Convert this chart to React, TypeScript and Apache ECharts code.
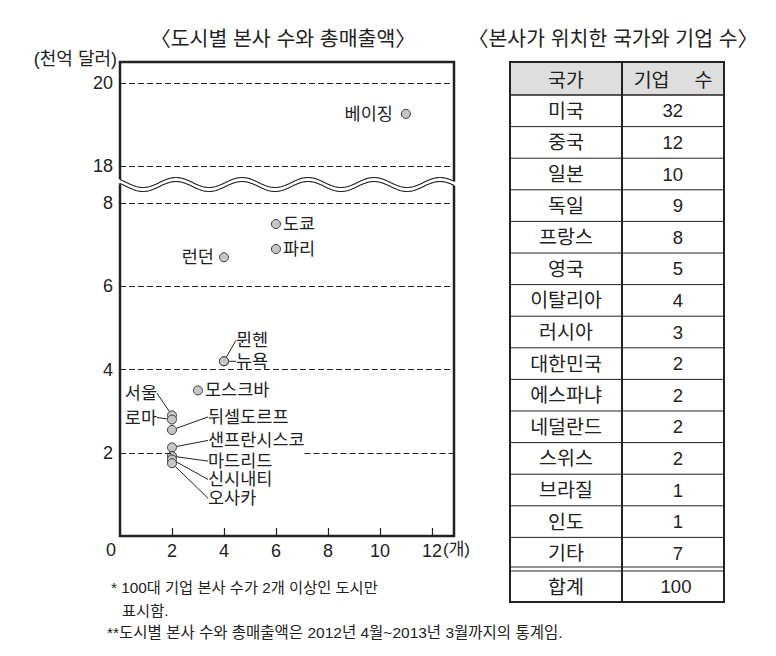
import React, { useEffect, useRef } from "react";
import * as echarts from "echarts";

// ---------------- data ----------------
const CITY_NAMES = ["베이징", "도쿄", "파리", "런던", "뮌헨", "뉴욕", "모스크바", "서울", "로마", "뒤셀도르프", "샌프란시스코", "마드리드", "신시내티", "오사카"];
const HQ_COUNTS = [11, 6, 6, 4, 4, 4, 3, 2, 2, 2, 2, 2, 2, 2];
const TOTAL_SALES = [19.25, 7.5, 6.9, 6.7, 4.2, 4.2, 3.5, 2.9, 2.8, 2.55, 2.13, 1.92, 1.84, 1.75];

const X_TICKS = [2, 4, 6, 8, 10, 12];
const Y_TICKS_UPPER = [18, 20];
const Y_TICKS_LOWER = [2, 4, 6, 8];

const COUNTRIES = ["미국", "중국", "일본", "독일", "프랑스", "영국", "이탈리아", "러시아", "대한민국", "에스파냐", "네덜란드", "스위스", "브라질", "인도", "기타"];
const COMPANY_COUNTS = [32, 12, 10, 9, 8, 5, 4, 3, 2, 2, 2, 2, 1, 1, 7];
const TOTAL_COUNT = 100;
const TABLE_HEADERS = ["국가", "기업\u3000 수"];
const TOTAL_LABEL = "합계";

const CHART_TITLE = "〈도시별 본사 수와 총매출액〉";
const TABLE_TITLE = "〈본사가 위치한 국가와 기업 수〉";
const Y_UNIT = "(천억 달러)";
const X_UNIT = "(개)";
const NOTE_1A = "* 100대 기업 본사 수가 2개 이상인 도시만";
const NOTE_1B = "표시함.";
const NOTE_2 = "**도시별 본사 수와 총매출액은 2012년 4월~2013년 3월까지의 통계임.";

// ---------------- styling / layout ----------------
const LABEL_SIDE = ["left", "right", "right", "left", "right", "right", "right", "left", "left", "right", "right", "right", "right", "right"];
const LABEL_SHIFT = [[-3, 0], [-3, 0], [-3, 0], [0, 0], [2, -21], [2, 0], [-3, 0], [-5, -22], [-5, -2], [26, -13], [26, -7], [26, 5], [26, 20], [26, 35]];
const LEADER = [false, false, false, false, true, true, false, true, true, true, true, true, true, true];
// the dashed 2-line is interrupted behind the clustered labels
const GAP_AT_2: [number, number] = [2, 7.1];

const X_MAX = 12.85;
const Y_UP_MIN = 17.6;
const Y_UP_MAX = 20.5;
const Y_LO_MAX = 8.4;

const PL = 120;
const PR = 454;
const UP_TOP = 62;
const UP_BOT = 182.4;
const LO_TOP = 186.6;
const LO_BOT = 536;

const FONT = '"Liberation Sans", "Noto Sans CJK KR", sans-serif';
const INK = "#222";

function buildOption() {
  const upperIdx = TOTAL_SALES.map((v, i) => i).filter((i) => TOTAL_SALES[i] > Y_LO_MAX);
  const lowerIdx = TOTAL_SALES.map((v, i) => i).filter((i) => TOTAL_SALES[i] <= Y_LO_MAX);

  const item = (i: number) => ({
    name: CITY_NAMES[i],
    value: [HQ_COUNTS[i], TOTAL_SALES[i]],
    label: { position: LABEL_SIDE[i] },
    labelLine: { show: LEADER[i] },
  });

  const scatterCommon = {
    type: "scatter",
    symbol: "circle",
    symbolSize: 9,
    itemStyle: { color: "#c6c6c6", borderColor: "#3a3a3a", borderWidth: 1, opacity: 1 },
    label: {
      show: true,
      formatter: "{b}",
      distance: 5,
      fontSize: 17.5,
      color: INK,
      fontFamily: FONT,
    },
    labelLine: { show: false, length2: 0, lineStyle: { color: INK, width: 1 }, smooth: false },
    emphasis: { disabled: true },
  };

  const dashed = { color: INK, width: 1, type: [6, 3] };

  // wave break
  const WAVE_P = 66;
  const WAVE_A = 5;
  const WAVE_C = 182.5;
  const WAVE_GAP = 4;
  const WAVE_X0 = 126.5;
  const topPts: number[][] = [];
  for (let x = 118; x <= 456; x += 1) {
    topPts.push([x, WAVE_C + WAVE_A * Math.sin((2 * Math.PI * (x - WAVE_X0)) / WAVE_P)]);
  }
  const botPts = topPts.map(([x, y]) => [x, y + WAVE_GAP]);
  const bandPts = topPts.concat(botPts.slice().reverse());
  const midY = WAVE_C + 2;

  // table
  const TL = 510, TR = 724, TM = 622, TT = 62, TH = 95, RH = 31.6;
  const dblA = 567, dblB = 571, TB = 602;
  const colA = (TL + TM) / 2;
  const colB = 683;

  const tableEls: any[] = [];
  tableEls.push({ type: "rect", z: 1, shape: { x: TL, y: TT, width: TR - TL, height: TH - TT }, style: { fill: "#dedede" } });
  for (let i = 1; i < COUNTRIES.length; i++) {
    const y = TH + RH * i;
    tableEls.push({ type: "line", z: 2, shape: { x1: TL, y1: y, x2: TR, y2: y }, style: { stroke: INK, lineWidth: 1 } });
  }
  tableEls.push({ type: "line", z: 2, shape: { x1: TL, y1: TH, x2: TR, y2: TH }, style: { stroke: INK, lineWidth: 1.6 } });
  tableEls.push({ type: "line", z: 2, shape: { x1: TL, y1: dblA, x2: TR, y2: dblA }, style: { stroke: INK, lineWidth: 1.1 } });
  tableEls.push({ type: "line", z: 2, shape: { x1: TL, y1: dblB, x2: TR, y2: dblB }, style: { stroke: INK, lineWidth: 1.1 } });
  tableEls.push({ type: "line", z: 2, shape: { x1: TM, y1: TT, x2: TM, y2: TB }, style: { stroke: INK, lineWidth: 2 } });
  tableEls.push({ type: "rect", z: 3, shape: { x: TL, y: TT, width: TR - TL, height: TB - TT }, style: { fill: "none", stroke: INK, lineWidth: 2 } });

  const txt = (text: string, x: number, y: number, size: number, align = "center", z = 5) => ({
    type: "text",
    z,
    x,
    y,
    style: { text, fill: INK, fontSize: size, fontFamily: FONT, align, verticalAlign: "middle" },
  });

  tableEls.push(txt(TABLE_HEADERS[0], colA, (TT + TH) / 2 + 1, 19.5));
  tableEls.push(txt(TABLE_HEADERS[1], (TM + TR) / 2, (TT + TH) / 2 + 1, 19.5));
  COUNTRIES.forEach((c, i) => {
    const cy = TH + RH * i + RH / 2;
    tableEls.push(txt(c, colA, cy, 19.5));
    tableEls.push(txt(String(COMPANY_COUNTS[i]), colB, cy, 18.5, "right"));
  });
  tableEls.push(txt(TOTAL_LABEL, colA, (dblB + TB) / 2, 19.5));
  tableEls.push(txt(String(TOTAL_COUNT), 676, (dblB + TB) / 2, 18.5));

  const graphic: any[] = [
    // frame
    { type: "polyline", z: 10, shape: { points: [[PL, midY], [PL, UP_TOP], [PR, UP_TOP], [PR, midY]] }, style: { stroke: INK, lineWidth: 2.5, fill: null } },
    { type: "polyline", z: 10, shape: { points: [[PL, midY], [PL, LO_BOT], [PR, LO_BOT], [PR, midY]] }, style: { stroke: INK, lineWidth: 2.5, fill: null } },
    { type: "polygon", z: 11, shape: { points: bandPts }, style: { fill: "#ffffff", stroke: null } },
    { type: "polyline", z: 12, shape: { points: topPts.filter(([x]) => x >= PL && x <= PR) }, style: { stroke: INK, lineWidth: 1.1, fill: null } },
    { type: "polyline", z: 12, shape: { points: botPts.filter(([x]) => x >= PL && x <= PR) }, style: { stroke: INK, lineWidth: 1.1, fill: null } },
    // texts
    txt(CHART_TITLE, 283, 38, 20.5),
    txt(TABLE_TITLE, 613, 38, 20.5),
    txt(Y_UNIT, 117, 59, 18, "right"),
    txt("0", 111, 550, 18),
    txt(X_UNIT, 443, 549, 17, "left"),
    txt(NOTE_1A, 111, 587, 15.3, "left"),
    txt(NOTE_1B, 122, 610, 15.3, "left"),
    txt(NOTE_2, 107, 632, 15.5, "left"),
    ...tableEls,
  ];

  const axisLabelStyle = { fontSize: 18, color: INK, fontFamily: FONT };

  const lowerLines: any[] = [];
  Y_TICKS_LOWER.forEach((v) => {
    if (v === 2) {
      lowerLines.push([{ coord: [0, v] }, { coord: [GAP_AT_2[0], v] }]);
      lowerLines.push([{ coord: [GAP_AT_2[1], v] }, { coord: [X_MAX, v] }]);
    } else {
      lowerLines.push({ yAxis: v });
    }
  });

  return {
    animation: false,
    backgroundColor: "#ffffff",
    grid: [
      { left: PL, width: PR - PL, top: UP_TOP, height: UP_BOT - UP_TOP, containLabel: false },
      { left: PL, width: PR - PL, top: LO_TOP, height: LO_BOT - LO_TOP, containLabel: false },
    ],
    xAxis: [
      { gridIndex: 0, type: "value", min: 0, max: X_MAX, show: false },
      {
        gridIndex: 1,
        type: "value",
        min: 0,
        max: X_MAX,
        axisLine: { show: false },
        splitLine: { show: false },
        axisTick: { show: true, inside: true, length: 8, customValues: X_TICKS, lineStyle: { color: INK, width: 1.2 } },
        axisLabel: { customValues: X_TICKS, margin: 6, ...axisLabelStyle },
      },
    ],
    yAxis: [
      {
        gridIndex: 0,
        type: "value",
        min: Y_UP_MIN,
        max: Y_UP_MAX,
        axisLine: { show: false },
        axisTick: { show: false },
        splitLine: { show: false },
        axisLabel: { customValues: Y_TICKS_UPPER, margin: 7, ...axisLabelStyle },
      },
      {
        gridIndex: 1,
        type: "value",
        min: 0,
        max: Y_LO_MAX,
        axisLine: { show: false },
        axisTick: { show: false },
        splitLine: { show: false },
        axisLabel: { customValues: Y_TICKS_LOWER, margin: 7, ...axisLabelStyle },
      },
    ],
    series: [
      {
        ...scatterCommon,
        xAxisIndex: 0,
        yAxisIndex: 0,
        data: upperIdx.map(item),
        labelLayout: (p: any) => ({ dx: LABEL_SHIFT[upperIdx[p.dataIndex]][0], dy: LABEL_SHIFT[upperIdx[p.dataIndex]][1] }),
        markLine: {
          silent: true,
          symbol: "none",
          label: { show: false },
          lineStyle: dashed,
          data: Y_TICKS_UPPER.map((v) => ({ yAxis: v })),
        },
      },
      {
        ...scatterCommon,
        xAxisIndex: 1,
        yAxisIndex: 1,
        data: lowerIdx.map(item),
        labelLayout: (p: any) => ({ dx: LABEL_SHIFT[lowerIdx[p.dataIndex]][0], dy: LABEL_SHIFT[lowerIdx[p.dataIndex]][1] }),
        markLine: {
          silent: true,
          symbol: "none",
          label: { show: false },
          lineStyle: dashed,
          data: lowerLines,
        },
      },
    ],
    graphic,
  };
}

export default function App() {
  const ref = useRef<HTMLDivElement>(null);
  useEffect(() => {
    if (!ref.current) return;
    const chart = echarts.init(ref.current, null, { renderer: "svg" });
    chart.setOption(buildOption() as any);
    return () => chart.dispose();
  }, []);
  return (
    <div
      ref={ref}
      style={{ position: "fixed", left: 0, top: 0, width: 776, height: 656, background: "#fff" }}
    />
  );
}
